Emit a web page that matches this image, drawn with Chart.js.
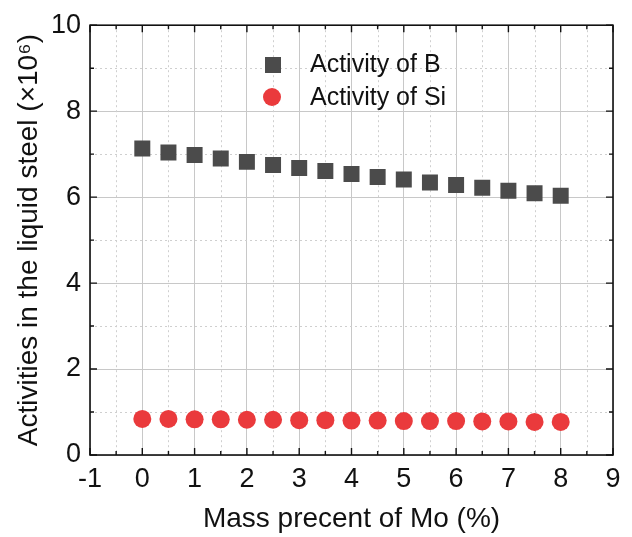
<!DOCTYPE html>
<html>
<head>
<meta charset="utf-8">
<script src="https://cdn.jsdelivr.net/npm/chart.js@4"></script>
<style>
  html, body { margin: 0; padding: 0; background: #fff; }
  #wrap { width: 632px; height: 537px; position: relative; }
</style>
</head>
<body>
<div id="wrap"><canvas id="c"></canvas></div>
<script>
// data
const moPercent = [0, 0.5, 1, 1.5, 2, 2.5, 3, 3.5, 4, 4.5, 5, 5.5, 6, 6.5, 7, 7.5, 8];
const activityB = [7.13, 7.04, 6.98, 6.90, 6.82, 6.75, 6.68, 6.61, 6.54, 6.47, 6.41, 6.34, 6.28, 6.22, 6.15, 6.09, 6.03];
const activitySi = [0.84, 0.84, 0.83, 0.83, 0.82, 0.82, 0.81, 0.81, 0.80, 0.80, 0.79, 0.79, 0.79, 0.78, 0.78, 0.77, 0.77];
const legendLabels = ['Activity of B', 'Activity of Si'];

const FONT = '"Liberation Sans", Arial, sans-serif';
const colB = '#4b4b4b';
const colSi = '#ea3a3c';

// minor dotted grid, inward ticks, frame and in-plot legend
const framePlugin = {
    id: 'frame',
    beforeDatasetsDraw(chart) {
        const ctx = chart.ctx;
        const a = chart.chartArea;
        const xs = chart.scales.x, ys = chart.scales.y;
        ctx.save();
        ctx.strokeStyle = '#cfcfcf';
        ctx.lineWidth = 1;
        ctx.setLineDash([2, 3]);
        xs.ticks.forEach(t => {
            if (Math.abs(t.value % 1) > 0.01) {
                const px = Math.round(xs.getPixelForValue(t.value)) + 0.5;
                ctx.beginPath(); ctx.moveTo(px, a.top); ctx.lineTo(px, a.bottom); ctx.stroke();
            }
        });
        ys.ticks.forEach(t => {
            if (t.value % 2 === 1) {
                const py = Math.round(ys.getPixelForValue(t.value)) + 0.5;
                ctx.beginPath(); ctx.moveTo(a.left, py); ctx.lineTo(a.right, py); ctx.stroke();
            }
        });
        ctx.restore();
    },
    afterDatasetsDraw(chart) {
        const ctx = chart.ctx;
        const a = chart.chartArea;
        const xs = chart.scales.x, ys = chart.scales.y;
        ctx.save();
        ctx.strokeStyle = '#111';
        ctx.lineWidth = 1.6;
        ctx.strokeRect(a.left, a.top, a.right - a.left, a.bottom - a.top);
        ctx.lineWidth = 1.4;
        xs.ticks.forEach(t => {
            const px = xs.getPixelForValue(t.value);
            const len = Math.abs(t.value % 1) < 0.01 ? 7 : 4;
            ctx.beginPath();
            ctx.moveTo(px, a.bottom); ctx.lineTo(px, a.bottom - len);
            ctx.moveTo(px, a.top); ctx.lineTo(px, a.top + len);
            ctx.stroke();
        });
        ys.ticks.forEach(t => {
            const py = ys.getPixelForValue(t.value);
            const len = t.value % 2 === 0 ? 7 : 4;
            ctx.beginPath();
            ctx.moveTo(a.left, py); ctx.lineTo(a.left + len, py);
            ctx.moveTo(a.right, py); ctx.lineTo(a.right - len, py);
            ctx.stroke();
        });
        // legend
        ctx.fillStyle = colB;
        ctx.fillRect(265, 57, 16, 16);
        ctx.fillStyle = colSi;
        ctx.beginPath(); ctx.arc(272, 97, 9, 0, Math.PI * 2); ctx.fill();
        ctx.fillStyle = '#111';
        ctx.font = '25px ' + FONT;
        ctx.textBaseline = 'middle';
        ctx.fillText(legendLabels[0], 310, 65);
        ctx.fillText(legendLabels[1], 310, 98);
        ctx.restore();
    }
};

new Chart(document.getElementById('c'), {
    type: 'scatter',
    data: {
        datasets: [
            {
                label: legendLabels[0],
                data: moPercent.map((x, i) => ({ x: x, y: activityB[i] })),
                pointStyle: 'rect',
                pointRadius: 11.3,
                backgroundColor: colB,
                borderColor: colB,
                borderWidth: 0
            },
            {
                label: legendLabels[1],
                data: moPercent.map((x, i) => ({ x: x, y: activitySi[i] })),
                pointStyle: 'circle',
                pointRadius: 9,
                backgroundColor: colSi,
                borderColor: colSi,
                borderWidth: 0
            }
        ]
    },
    options: {
        responsive: true,
        maintainAspectRatio: false,
        animation: false,
        layout: { padding: { top: 25, right: 19, left: 0, bottom: 0 } },
        plugins: { legend: { display: false }, tooltip: { enabled: false } },
        scales: {
            x: {
                type: 'linear',
                min: -1, max: 9,
                afterFit: s => { s.height = 82; },
                ticks: {
                    stepSize: 0.5,
                    autoSkip: false,
                    maxRotation: 0,
                    padding: 8,
                    color: '#111',
                    font: { family: FONT, size: 27 },
                    callback: v => (Math.abs(v % 1) < 0.01 ? String(v) : '')
                },
                grid: {
                    drawTicks: false,
                    color: c => (c.tick && Math.abs(c.tick.value % 1) < 0.01 ? '#c8c8c8' : 'rgba(0,0,0,0)')
                },
                border: { display: false },
                title: {
                    display: true,
                    text: 'Mass precent of Mo (%)',
                    color: '#111',
                    font: { family: FONT, size: 28 },
                    padding: { top: 0, bottom: 1 }
                }
            },
            y: {
                min: 0, max: 10,
                afterFit: s => { s.width = 90; },
                ticks: {
                    stepSize: 1,
                    autoSkip: false,
                    padding: 9,
                    color: '#111',
                    font: { family: FONT, size: 27 },
                    callback: v => (v % 2 === 0 ? String(v) : '')
                },
                grid: {
                    drawTicks: false,
                    color: c => (c.tick && c.tick.value % 2 === 0 ? '#c8c8c8' : 'rgba(0,0,0,0)')
                },
                border: { display: false },
                title: {
                    display: true,
                    text: 'Activities in the liquid steel (\u00d710\u2076)',
                    color: '#111',
                    font: { family: FONT, size: 28 },
                    padding: { top: 12, bottom: 0 }
                }
            }
        }
    },
    plugins: [framePlugin]
});
</script>
</body>
</html>
